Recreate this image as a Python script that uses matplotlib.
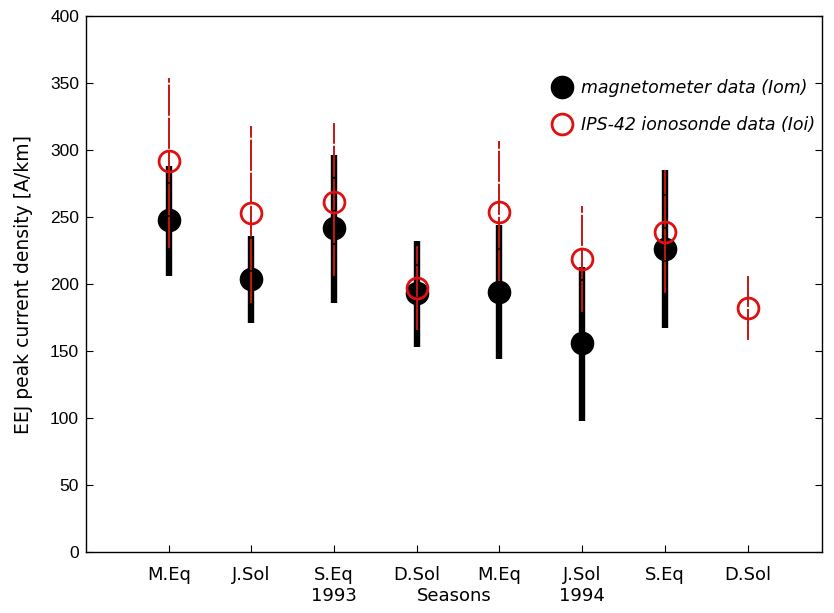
import numpy as np
import matplotlib
matplotlib.use("Agg")
import matplotlib.pyplot as plt

plt.rcParams['font.family'] = ['DejaVu Sans']

seasons = ["M.Eq", "J.Sol", "S.Eq\n1993", "D.Sol", "M.Eq", "J.Sol\n1994", "S.Eq", "D.Sol"]
xpos = np.arange(1, 9)

mag_mean = [248, 204, 242, 193, 194, 156, 226, np.nan]
mag_low = [206, 171, 186, 153, 144, 98, 167, np.nan]
mag_high = [288, 236, 296, 232, 244, 213, 285, np.nan]

ion_mean = [292, 253, 261, 197, 254, 219, 239, 182]
ion_low = [227, 186, 206, 166, 202, 179, 193, 158]
ion_high = [354, 318, 320, 228, 307, 258, 285, 206]

fig = plt.figure(figsize=(8.34, 6.13), dpi=100)
ax = fig.add_axes([86/834, 61/613, (822-86)/834, (552-16)/613])

ax.vlines(xpos, mag_low, mag_high, color='black', lw=4.6, zorder=2)
ax.plot(xpos, mag_mean, 'o', color='black', ms=16, ls='none', zorder=3,
        label='magnetometer data (Iom)')
ax.vlines(xpos, ion_low, ion_high, color='#c81414', lw=1.4, zorder=4,
          linestyles=[(0, (16, 1.0))])
ax.plot(xpos, ion_mean, 'o', mfc='none', mec='#e01010', mew=2, ms=15, ls='none',
        zorder=5, label='IPS-42 ionosonde data (Ioi)')

ax.set_xlim(0, 8.9)
ax.set_ylim(0, 400)
ax.set_yticks(np.arange(0, 401, 50))
ax.set_xticks(xpos)
ax.set_xticklabels(seasons, fontsize=13)
ax.tick_params(axis='y', labelsize=12, direction='in', pad=5, right=True, length=5)
for lab in ax.get_yticklabels():
    lab.set_family(['Liberation Sans', 'DejaVu Sans'])
    lab.set_fontsize(12.5)
ax.tick_params(axis='x', direction='in', pad=10, top=False, length=5)
ax.set_ylabel('EEJ peak current density [A/km]', fontsize=13.5, labelpad=12)
ax.set_xlabel('Seasons', fontsize=13, labelpad=-12.5)

for s in ax.spines.values():
    s.set_linewidth(1.0)

leg = ax.legend(loc='upper left', bbox_to_anchor=(0.633, 0.883), frameon=False,
                numpoints=1, handlelength=1.2, handletextpad=0.5, borderaxespad=0,
                borderpad=0, labelspacing=1.1,
                prop={'style': 'italic', 'size': 12.5})

fig.savefig('out.png', dpi=100)
